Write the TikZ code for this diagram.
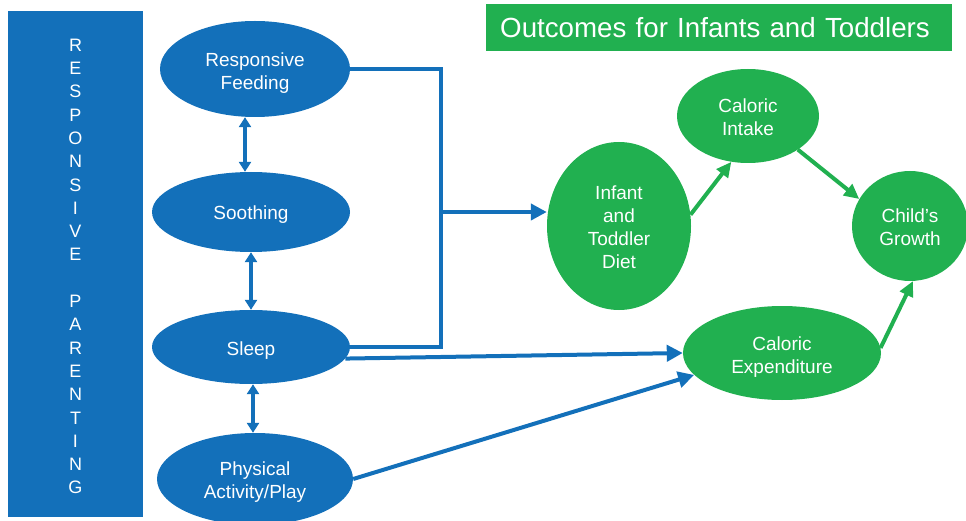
\documentclass[tikz,border=0pt]{standalone}
\usepackage{fontspec}
\setmainfont{Liberation Sans}
\usetikzlibrary{shapes.geometric,arrows.meta}
\definecolor{bl}{RGB}{19,112,186}
\definecolor{gr}{RGB}{33,176,80}
\begin{document}
\begin{tikzpicture}[x=1pt,y=-1pt,
  bell/.style={ellipse, fill=bl, inner sep=0pt},
  gell/.style={bell, fill=gr},
  txt/.style={text=white, inner sep=0pt, align=center, font=\fontsize{19}{23}\selectfont},
  bline/.style={draw=bl, line width=4pt},
  barr/.style={bline, -{Triangle[length=16pt,width=16pt]}},
  bdbl/.style={draw=bl, line width=3.5pt, {Triangle[length=10pt,width=12pt]}-{Triangle[length=10pt,width=12pt]}},
  garr/.style={draw=gr, line width=4pt, -{Triangle[length=15pt,width=14pt]}},
]
\useasboundingbox (0,0) rectangle (966,521);

% left bar
\node[fill=bl, minimum width=135pt, minimum height=506pt, inner sep=0pt,
      label={[text=white, align=center, inner sep=0pt, yshift=-2.5pt, font=\fontsize{18}{23.3}\selectfont]center:R\\E\\S\\P\\O\\N\\S\\I\\V\\E\\\mbox{}\\P\\A\\R\\E\\N\\T\\I\\N\\G}]
 (rp) at (75.5,264) {};

% title
\node[fill=gr, text=white, anchor=north west, minimum height=47pt, text width=438pt,
      inner xsep=14pt, inner ysep=0pt, align=left, font=\fontsize{27.7}{30}\selectfont]
 (title) at (486,4) {Outcomes for Infants and Toddlers};

% blue ellipses
\node[bell, minimum width=190pt, minimum height=96pt,
      label={[txt, yshift=-4pt]center:Responsive\\Feeding}] (feed) at (255,69) {};
\node[bell, minimum width=198pt, minimum height=80pt,
      label={[txt, yshift=-3pt]center:Soothing}] (soothe) at (251,212) {};
\node[bell, minimum width=198pt, minimum height=74pt,
      label={[txt, yshift=-4pt]center:Sleep}] (sleep) at (251,347) {};
\node[bell, minimum width=196pt, minimum height=92pt,
      label={[txt, yshift=-3pt]center:Physical\\Activity/Play}] (phys) at (255,479) {};

% green ellipses
\node[gell, minimum width=144pt, minimum height=168pt,
      label={[txt, yshift=-1.5pt]center:Infant\\and\\Toddler\\Diet}] (diet) at (619,226) {};
\node[gell, minimum width=142pt, minimum height=94pt,
      label={[txt, yshift=-1.5pt]center:Caloric\\Intake}] (intake) at (748,116) {};
\node[gell, minimum width=116pt, minimum height=110pt,
      label={[txt, yshift=-1pt]center:Child’s\\Growth}] (growth) at (910,226) {};
\node[gell, minimum width=198pt, minimum height=94pt,
      label={[txt, yshift=-4pt]center:Caloric\\Expenditure}] (expend) at (782,353) {};

% helper coordinates
\coordinate (jt) at (441,212);
\coordinate (cx1) at (245,0);
\coordinate (cx3) at (253,0);

% blue connectors
\draw[bline] (feed.east) -| (jt) |- (sleep.east);
\draw[barr] (jt) -- (jt -| diet.west);
\draw[barr] (sleep.-7) -- (expend.west);
\draw[barr] (phys.east) -- (expend.194);
\draw[bdbl] (feed.south -| cx1) -- (soothe.north -| cx1);
\draw[bdbl] (soothe.south) -- (sleep.north);
\draw[bdbl] (sleep.south -| cx3) -- (phys.north -| cx3);

% green connectors
\draw[garr] (diet.9) -- (intake.250);
\draw[garr] (intake.-34) -- (growth.152);
\draw[garr] (expend.3) -- (growth.-87);
\end{tikzpicture}
\end{document}
